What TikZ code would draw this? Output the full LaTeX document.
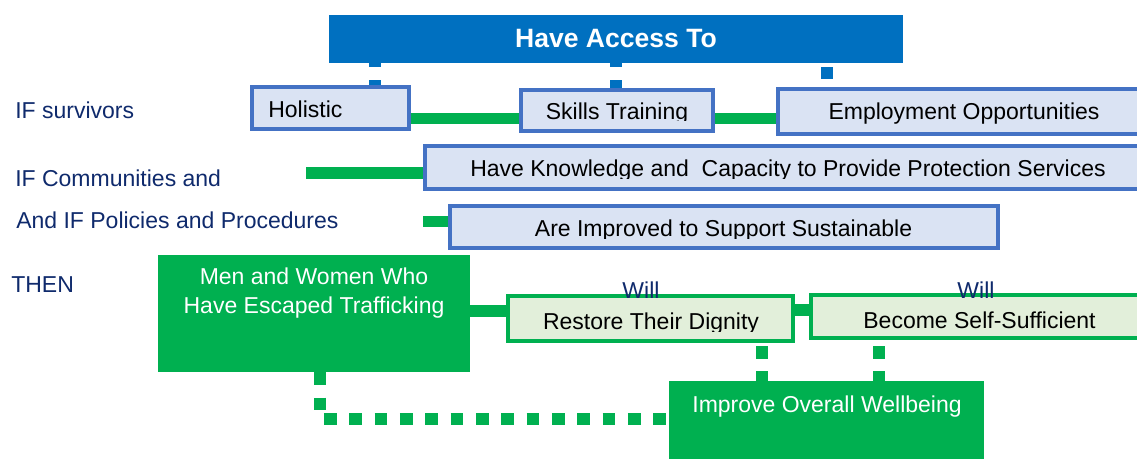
\documentclass[tikz,border=0pt]{standalone}
\usepackage{fontspec}
\setmainfont{Liberation Sans}
\definecolor{accblue}{HTML}{0070C0}
\definecolor{bordblue}{HTML}{4472C4}
\definecolor{fillblue}{HTML}{DAE3F3}
\definecolor{grn}{HTML}{00B050}
\definecolor{lgrn}{HTML}{E2EFDA}
\definecolor{navy}{HTML}{0F2A6C}
\begin{document}
\begin{tikzpicture}[x=0.75pt,y=-0.75pt,
  accessbox/.style={fill=accblue, inner sep=0pt},
  bluebox/.style={draw=bordblue, line width=3pt, fill=fillblue, inner sep=0pt},
  greenbox/.style={draw=grn, line width=3pt, fill=lgrn, inner sep=0pt},
  solidgreen/.style={fill=grn, inner sep=0pt},
  txt/.style={font=\fontsize{17.25pt}{20pt}\selectfont, inner sep=0pt, anchor=base},
  navytxt/.style={txt, text=navy, anchor=base west},
  whitetxt/.style={txt, text=white},
  grnline/.style={draw=grn, line width=8.5pt},
  bluedash/.style={draw=accblue, line width=9pt, dash pattern=on 9pt off 9.75pt},
  grndash/.style={draw=grn, line width=9.4pt, dash pattern=on 9.5pt off 9.5pt}
]
\useasboundingbox (0,0) rectangle (1137,459);

% boxes
\node[accessbox, minimum width=430.5pt, minimum height=36pt] (access) at (616,39) {};
\node[bluebox, minimum width=117.75pt, minimum height=31.5pt] (holistic) at (330.5,108) {};
\node[bluebox, minimum width=144pt, minimum height=30.75pt] (skills) at (617,110.5) {};
\node[bluebox, minimum width=279pt, minimum height=33.75pt] (employ) at (964,111.5) {};
\node[bluebox, minimum width=544.5pt, minimum height=32.25pt] (knowledge) at (788,167.5) {};
\node[bluebox, minimum width=411pt, minimum height=31.5pt] (improved) at (724,227) {};
\node[solidgreen, minimum width=234pt, minimum height=87.75pt] (men) at (314,313.5) {};
\node[greenbox, minimum width=213.75pt, minimum height=33.75pt] (restore) at (650.5,318.5) {};
\node[greenbox, minimum width=253.5pt, minimum height=32.25pt] (become) at (980,316.5) {};
\node[solidgreen, minimum width=236.25pt, minimum height=66.75pt] (improve) at (826.5,425.5) {};

% helper coordinates
\coordinate (c375) at (375,0);
\coordinate (c616) at (616,0);
\coordinate (c827) at (827,0);
\coordinate (y118) at (0,118.5);
\coordinate (kstart) at (306,173);
\coordinate (istart) at (423,221.5);
\coordinate (y311) at (0,311);
\coordinate (y310) at (0,310);
\coordinate (c762) at (762,0);
\coordinate (c879) at (879,0);
\coordinate (c320) at (320,0);
\coordinate (y419) at (0,419);

% connectors
\draw[bluedash, dash phase=6pt] (access.south -| c375) -- (holistic.north -| c375);
\draw[bluedash, dash phase=6pt] (access.south -| c616) -- (skills.north -| c616);
\draw[bluedash, dash phase=15.75pt] (access.south -| c827) -- (employ.north -| c827);
\draw[grnline] (holistic.east |- y118) -- (skills.west |- y118);
\draw[grnline] (skills.east |- y118) -- (employ.west |- y118);
\draw[grnline] (kstart) -- (knowledge.west |- kstart);
\draw[grnline] (istart) -- (improved.west |- istart);
\draw[grnline] (men.east |- y311) -- (restore.west |- y311);
\draw[grnline] (restore.east |- y310) -- (become.west |- y310);
\draw[grndash, dash phase=16.75pt] (restore.south -| c762) -- (improve.north -| c762);
\draw[grndash, dash phase=14.5pt] (become.south -| c879) -- (improve.north -| c879);
\draw[grndash] (men.south -| c320) |- (improve.west |- y419);

% texts
\node[whitetxt, font=\fontsize{19.9pt}{23pt}\selectfont\bfseries] (tAccess) at (616,48) {Have Access To};
\node[navytxt] (lSurv) at (15,119) {IF survivors};
\node[navytxt] (lComm) at (15,187) {IF Communities and};
\node[navytxt] (lPol) at (16,229) {And IF Policies and Procedures};
\node[navytxt] (lThen) at (11,292) {THEN};
\node[txt, anchor=base west] (tHol) at (268,118) {Holistic};
\begin{scope}
  \clip (520,90) rectangle (714,121);
  \node[txt] (tSk) at (617,120) {Skills Training};
\end{scope}
\node[txt] (tEmp) at (964,120) {Employment Opportunities};
\begin{scope}
  \clip (425,146) rectangle (1137,178.5);
  \node[txt] (tKnow) at (788,177) {Have Knowledge and\ \ Capacity to Provide Protection Services};
\end{scope}
\begin{scope}
  \clip (450,206) rectangle (998,239);
  \node[txt] (tImpr) at (723.5,237) {Are Improved to Support Sustainable};
\end{scope}
\node[whitetxt] (tMen1) at (314,285) {Men and Women Who};
\node[whitetxt] (tMen2) at (314,314) {Have Escaped Trafficking};
\begin{scope}
  \clip (508,296) rectangle (793,331);
  \node[txt] (tRest) at (651,329) {Restore Their Dignity};
\end{scope}
\node[txt] (tBec) at (979.5,328) {Become Self-Sufficient};
\node[whitetxt] (tWell) at (827,412) {Improve Overall Wellbeing};
\node[txt, text=navy] (will1) at (641,299) {Will};
\node[txt, text=navy] (will2) at (976,299) {Will};
\end{tikzpicture}
\end{document}
